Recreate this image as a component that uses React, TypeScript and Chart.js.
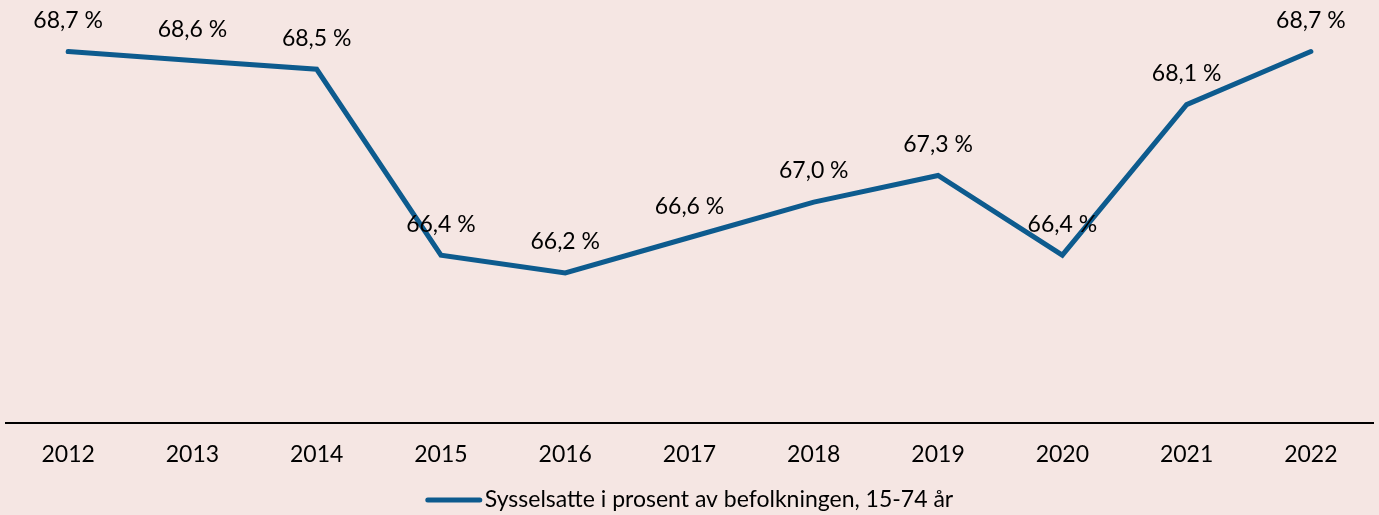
import React, { useEffect, useRef } from "react";
import { Chart, registerables } from "chart.js";

Chart.register(...registerables);

const years = ["2012", "2013", "2014", "2015", "2016", "2017", "2018", "2019", "2020", "2021", "2022"];
const employmentRate = [68.7, 68.6, 68.5, 66.4, 66.2, 66.6, 67.0, 67.3, 66.4, 68.1, 68.7];
const seriesName = "Sysselsatte i prosent av befolkningen, 15-74 år";

const BG = "#f5e6e3";
const LINE = "#0d5b8e";
const FONT = "Lato, 'Noto Sans', sans-serif";

const labelPlugin = {
  id: "pointLabels",
  afterDatasetsDraw(chart: any) {
    const ctx = chart.ctx;
    const meta = chart.getDatasetMeta(0);
    const data = chart.data.datasets[0].data as number[];
    ctx.save();
    ctx.font = `23px ${FONT}`;
    ctx.fillStyle = "#000";
    ctx.textAlign = "center";
    ctx.textBaseline = "middle";
    meta.data.forEach((pt: any, i: number) => {
      const txt = data[i].toFixed(1).replace(".", ",") + " %";
      ctx.fillText(txt, pt.x, pt.y - 31);
    });
    ctx.restore();
  },
};

const legendPlugin = {
  id: "customLegend",
  afterDraw(chart: any) {
    const ctx = chart.ctx;
    const ds = chart.data.datasets[0];
    ctx.save();
    ctx.font = `23px ${FONT}`;
    const tw = ctx.measureText(ds.label).width;
    const lineW = 56;
    const gap = 3;
    const total = lineW + gap + tw;
    const x0 = (chart.width - total) / 2;
    const y = 500;
    ctx.strokeStyle = ds.borderColor;
    ctx.lineWidth = 5;
    ctx.lineCap = "round";
    ctx.beginPath();
    ctx.moveTo(x0 + 2, y);
    ctx.lineTo(x0 + lineW - 2, y);
    ctx.stroke();
    ctx.fillStyle = "#000";
    ctx.textAlign = "left";
    ctx.textBaseline = "middle";
    ctx.fillText(ds.label, x0 + lineW + gap, y);
    ctx.restore();
  },
};

export default function App() {
  const ref = useRef<HTMLCanvasElement>(null);
  useEffect(() => {
    document.body.style.margin = "0";
    const chart = new Chart(ref.current!, {
      type: "line",
      data: {
        labels: years,
        datasets: [
          {
            label: seriesName,
            data: employmentRate,
            borderColor: LINE,
            backgroundColor: LINE,
            borderWidth: 5,
            borderCapStyle: "round",
            tension: 0,
            pointRadius: 0,
            pointHoverRadius: 0,
          },
        ],
      },
      options: {
        animation: false,
        responsive: false,
        layout: { padding: { top: 25, left: 6, right: 6, bottom: 38 } },
        scales: {
          x: {
            offset: true,
            grid: { display: false },
            border: { display: true, color: "#000", width: 2 },
            ticks: { color: "#000", font: { family: FONT, size: 23 }, padding: 9 },
          },
          y: { display: false, min: 64.5, max: 69.0 },
        },
        plugins: {
          legend: { display: false },
          tooltip: { enabled: false },
        },
      },
      plugins: [labelPlugin, legendPlugin],
    });
    return () => chart.destroy();
  }, []);
  return (
    <div style={{ position: "fixed", left: 0, top: 0, width: 1379, height: 515, background: BG }}>
      <canvas ref={ref} width={1379} height={515} />
    </div>
  );
}
